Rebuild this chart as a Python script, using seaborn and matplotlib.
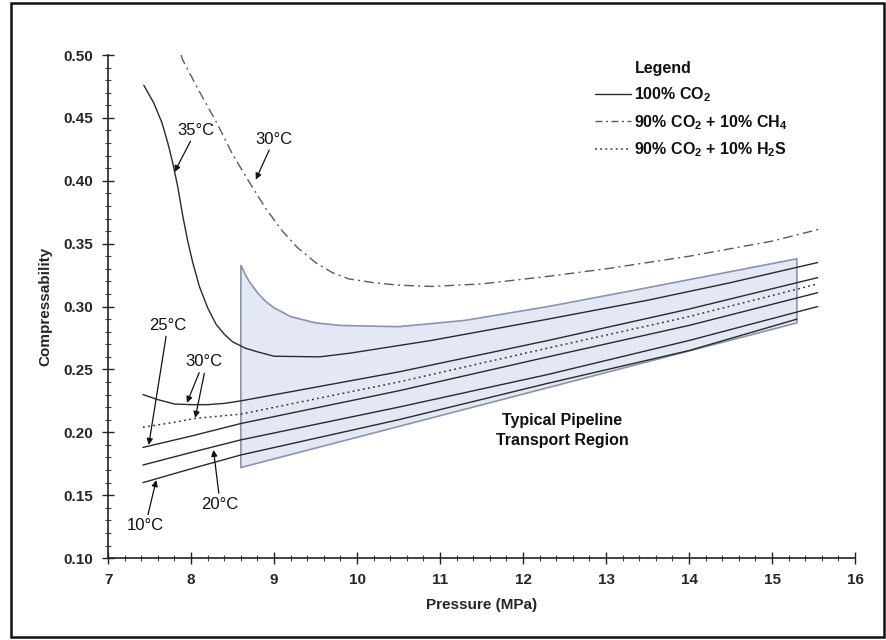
import matplotlib
matplotlib.use('Agg')
import matplotlib.pyplot as plt
from matplotlib.lines import Line2D
from matplotlib.patches import Rectangle
from matplotlib.ticker import MultipleLocator
import seaborn as sns

# 100% CO2 isotherms (pressure MPa, compressibility)
co2_35_p = [7.43, 7.55, 7.65, 7.72, 7.78, 7.84, 7.9, 7.96, 8.02, 8.1, 8.2, 8.3, 8.4, 8.5, 8.65, 8.8, 9.0,
            9.55, 9.92, 10.89, 12.3, 13.5, 14.5, 15.55]
co2_35_z = [0.476, 0.462, 0.446, 0.430, 0.414, 0.395, 0.372, 0.352, 0.335, 0.316, 0.299, 0.286, 0.278,
            0.272, 0.267, 0.264, 0.2605, 0.260, 0.263, 0.273, 0.290, 0.305, 0.319, 0.335]

co2_30_p = [7.42, 7.6, 7.8, 8.0, 8.2, 8.4, 8.6, 10.5, 12.3, 14.0, 15.55]
co2_30_z = [0.230, 0.226, 0.2225, 0.222, 0.222, 0.223, 0.225, 0.248, 0.273, 0.298, 0.323]

co2_25_p = [7.42, 8.0, 8.6, 10.5, 12.3, 14.0, 15.55]
co2_25_z = [0.188, 0.197, 0.207, 0.233, 0.260, 0.285, 0.311]

co2_20_p = [7.42, 8.0, 8.6, 10.5, 12.3, 14.0, 15.55]
co2_20_z = [0.174, 0.184, 0.194, 0.220, 0.246, 0.273, 0.300]

co2_10_p = [7.42, 8.0, 8.6, 10.5, 12.3, 14.0, 15.3]
co2_10_z = [0.160, 0.171, 0.182, 0.210, 0.239, 0.265, 0.290]

# 90% CO2 + 10% H2S at 30 C
h2s_p = [7.42, 7.8, 8.04, 8.6, 10.5, 12.3, 14.0, 15.55]
h2s_z = [0.204, 0.208, 0.211, 0.2145, 0.240, 0.267, 0.292, 0.318]

# 90% CO2 + 10% CH4 at 30 C
ch4_p = [7.88, 7.9, 8.1, 8.31, 8.5, 8.71, 8.9, 9.1, 9.28, 9.5, 9.7, 9.9, 10.2, 10.5, 10.9, 11.5, 12.3, 13.0, 14.0, 15.0, 15.6]
ch4_z = [0.500, 0.496, 0.471, 0.446, 0.421, 0.398, 0.378, 0.360, 0.347, 0.335, 0.327, 0.322, 0.319, 0.317, 0.316, 0.318, 0.324, 0.330, 0.340, 0.352, 0.362]

# typical pipeline transport region outline
region_p = [8.6, 8.6, 8.65, 8.7, 8.8, 8.9, 9.0, 9.2, 9.5, 9.8, 10.5, 11.3, 12.3, 13.5, 15.3, 15.3, 8.6]
region_z = [0.172, 0.333, 0.326, 0.320, 0.311, 0.304, 0.299, 0.292, 0.287, 0.285, 0.284, 0.289, 0.300, 0.315, 0.338, 0.287, 0.172]

legend_labels = ['100% CO$_2$', '90% CO$_2$ + 10% CH$_4$', '90% CO$_2$ + 10% H$_2$S']

sns.set_theme(style='white')
plt.rcParams['font.family'] = ['Liberation Sans', 'DejaVu Sans']
plt.rcParams['mathtext.default'] = 'regular'
plt.rcParams['text.color'] = '#111111'

fig = plt.figure(figsize=(8.86, 6.4), dpi=100)
ax = fig.add_axes([0.122, 0.128, 0.843, 0.786])

ax.fill(region_p, region_z, facecolor='#e4e8f5', edgecolor='#8c94ae', lw=1.2, zorder=1)

solid = dict(color='#2a2a2a', lw=1.0, sort=False, estimator=None, ax=ax, zorder=3)
for p, z in [(co2_35_p, co2_35_z), (co2_30_p, co2_30_z), (co2_25_p, co2_25_z),
             (co2_20_p, co2_20_z), (co2_10_p, co2_10_z)]:
    sns.lineplot(x=p, y=z, **solid)
sns.lineplot(x=h2s_p, y=h2s_z, color='#333333', lw=1.1, linestyle=(0, (1.2, 2.2)),
             sort=False, estimator=None, ax=ax, zorder=3)
sns.lineplot(x=ch4_p, y=ch4_z, color='#5a5a5a', lw=1.0, linestyle=(0, (7, 3, 1.5, 3)),
             sort=False, estimator=None, ax=ax, zorder=3)

ax.set_xlim(7, 16)
ax.set_ylim(0.10, 0.50)
ax.xaxis.set_major_locator(MultipleLocator(1))
ax.xaxis.set_minor_locator(MultipleLocator(0.2))
ax.yaxis.set_major_locator(MultipleLocator(0.05))
ax.yaxis.set_minor_locator(MultipleLocator(0.01))
ax.yaxis.set_major_formatter(matplotlib.ticker.FormatStrFormatter('%.2f'))
ax.tick_params(which='major', direction='inout', length=9, width=1.0, color='#222222',
               labelsize=11, pad=6, left=True, bottom=True)
ax.tick_params(which='minor', direction='inout', length=4, width=0.8, color='#444444',
               left=True, bottom=True)
for lab in ax.get_xticklabels() + ax.get_yticklabels():
    lab.set_fontweight('bold')
for s in ['top', 'right']:
    ax.spines[s].set_visible(False)
for s in ['left', 'bottom']:
    ax.spines[s].set_color('#222222')
    ax.spines[s].set_linewidth(1.2)

ax.set_xlabel('Pressure (MPa)', fontsize=11, fontweight='bold', labelpad=8)
ax.set_ylabel('Compressability', fontsize=11, fontweight='bold', labelpad=8)

arrow = dict(arrowstyle='-|>', color='#111111', lw=0.9, mutation_scale=9, shrinkA=0, shrinkB=0)
tfont = dict(fontsize=12, ha='center', va='center')
ax.annotate('35°C', xy=(7.80, 0.407), xytext=(8.06, 0.440), arrowprops=arrow, **tfont)
ax.annotate('30°C', xy=(8.78, 0.401), xytext=(9.0, 0.433), arrowprops=arrow, **tfont)
ax.annotate('25°C', xy=(7.49, 0.190), xytext=(7.72, 0.285), arrowprops=arrow, **tfont)
ax.annotate('30°C', xy=(7.95, 0.2235), xytext=(8.15, 0.256), arrowprops=arrow, **tfont)
ax.annotate('', xy=(8.05, 0.2115), xytext=(8.16, 0.247), arrowprops=arrow)
ax.annotate('20°C', xy=(8.27, 0.186), xytext=(8.35, 0.143), arrowprops=arrow, **tfont)
ax.annotate('10°C', xy=(7.58, 0.162), xytext=(7.45, 0.126), arrowprops=arrow, **tfont)

ax.text(12.47, 0.2015, 'Typical Pipeline\nTransport Region', fontsize=11.5, fontweight='bold',
        ha='center', va='center', linespacing=1.45)

handles = [Line2D([], [], color='#2a2a2a', lw=1.0),
           Line2D([], [], color='#5a5a5a', lw=1.0, linestyle=(0, (5, 2.5, 1.5, 2.5))),
           Line2D([], [], color='#333333', lw=1.1, linestyle=(0, (1.2, 2.2)))]
leg = ax.legend(handles, legend_labels, loc='upper left', bbox_to_anchor=(0.662, 0.879),
                bbox_transform=fig.transFigure, frameon=False, handlelength=2.3,
                handletextpad=0.15, labelspacing=0.55, borderpad=0,
                prop={'size': 11.5, 'weight': 'bold'})
fig.text(0.716, 0.893, 'Legend', fontsize=11.5, fontweight='bold', ha='left', va='center')

fig.patches.append(Rectangle((0.0125, 0.005), 0.985, 0.99, transform=fig.transFigure,
                             fill=False, edgecolor='#111111', lw=1.8))

fig.savefig('out.png', dpi=100)
